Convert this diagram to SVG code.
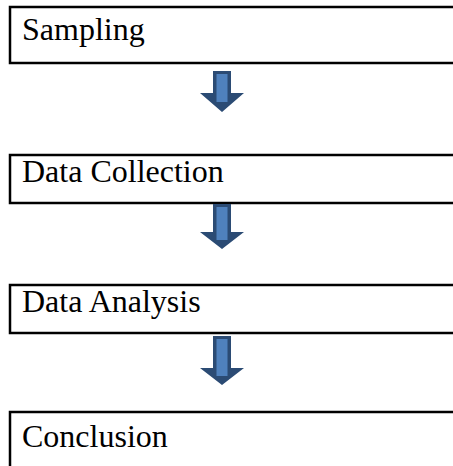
<svg xmlns="http://www.w3.org/2000/svg" width="453" height="466" viewBox="0 0 453 466">
<style>
.box{fill:#fff;stroke:#000;stroke-width:2.5}
.lbl{font-family:"Liberation Serif","Times New Roman",serif;font-size:32px;fill:#000}
.arr{fill:#2B4B74}
.arrIn{fill:#4F81BD}
</style>
<rect width="453" height="466" fill="#fff"/>
<g id="sampling">
<rect class="box" x="10" y="7" width="460" height="56"/>
<text class="lbl" x="22" y="40">Sampling</text>
</g>
<g id="data-collection">
<rect class="box" x="10" y="155" width="460" height="48"/>
<text class="lbl" x="22" y="182">Data Collection</text>
</g>
<g id="data-analysis">
<rect class="box" x="10" y="285" width="460" height="48"/>
<text class="lbl" x="22" y="312">Data Analysis</text>
</g>
<g id="conclusion">
<rect class="box" x="10" y="412" width="460" height="70"/>
<text class="lbl" x="22" y="447">Conclusion</text>
</g>
<g id="connectors">
<g>
<polygon class="arr" points="213,71 231,71 231,93 244,93 222,112 200,93 213,93"/>
<rect class="arrIn" x="216.5" y="74" width="11" height="28"/>
</g>
<g>
<polygon class="arr" points="213,204 231,204 231,232 244,232 222,249 200,232 213,232"/>
<rect class="arrIn" x="216.5" y="207" width="11" height="33"/>
</g>
<g>
<polygon class="arr" points="213,336 231,336 231,368 244,368 222,385 200,368 213,368"/>
<rect class="arrIn" x="216.5" y="339" width="11" height="37"/>
</g>
</g>
</svg>
